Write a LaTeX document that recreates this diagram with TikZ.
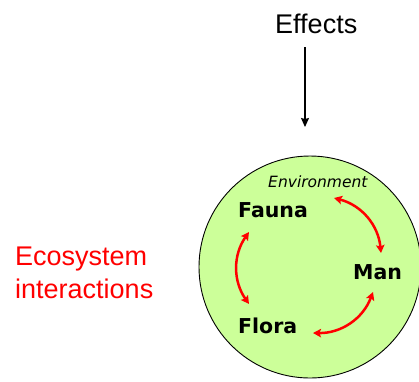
\documentclass[tikz,border=0pt]{standalone}
\usepackage{fontspec}
\usetikzlibrary{arrows.meta}
\newfontfamily\arialf{Liberation Sans}
\newfontfamily\verdf{DejaVu Sans}
\definecolor{envgreen}{HTML}{CCFF99}
\definecolor{ired}{HTML}{FF0000}
\begin{document}
\begin{tikzpicture}[x=1pt,y=-1pt,
  bigtxt/.style={font=\arialf\fontsize{27}{31}\selectfont, inner sep=0pt, anchor=base west},
  member/.style={font=\verdf\bfseries\fontsize{20.5}{24}\selectfont, inner sep=0pt, anchor=base west},
  inter/.style={draw=ired, line width=2.5pt, {Stealth[length=8pt,width=8.5pt,inset=1.5pt]}-{Stealth[length=8pt,width=8.5pt,inset=1.5pt]}},
  effarrow/.style={draw=black, line width=1.1pt, -{Stealth[length=9pt,width=8pt,inset=1pt]}}]
\useasboundingbox (0,0) rectangle (419,381);
\node[circle, draw=black, line width=0.9pt, fill=envgreen, minimum size=222pt, inner sep=0pt] (env) at (310,267) {};
\node[font=\verdf\itshape\fontsize{15.5}{18}\selectfont, inner sep=0pt, anchor=base west] (envlbl) at (268,187) {Environment};
\node[member] (fauna) at (238,217) {Fauna};
\node[member] (man) at (353,279) {Man};
\node[member] (flora) at (238,333) {Flora};
\node[bigtxt] (effects) at (275,33) {Effects};
\node[bigtxt, text=ired] (eco1) at (15,265) {Ecosystem};
\node[bigtxt, text=ired] (eco2) at (15,298) {interactions};
\coordinate (efftop) at (305,47);
\coordinate (effbot) at (305,127);
\draw[effarrow] (efftop) -- (effbot);
\coordinate (fa1) at (249,232);
\coordinate (fl1) at (249,304);
\coordinate (fa2) at (334,198);
\coordinate (ma1) at (381,253);
\coordinate (ma2) at (373,292);
\coordinate (fl2) at (313,333);
\draw[inter] (fa1) to[bend right=35] (fl1);
\draw[inter] (fa2) to[bend left=35] (ma1);
\draw[inter] (ma2) to[bend left=35] (fl2);
\end{tikzpicture}
\end{document}
